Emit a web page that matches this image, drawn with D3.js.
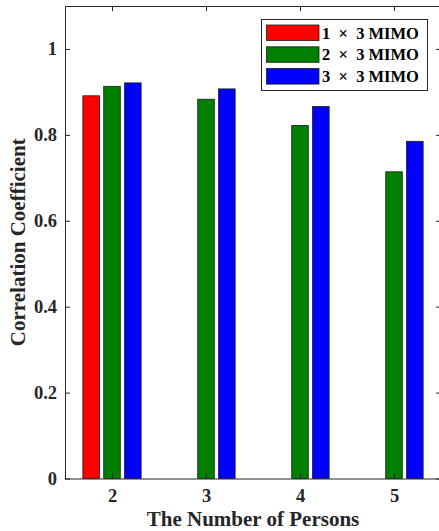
<!DOCTYPE html>
<html><head><meta charset="utf-8">
<script src="https://cdn.jsdelivr.net/npm/d3@7"></script>
<style>body{margin:0;background:#fff;}svg{display:block;}</style>
</head><body>
<script>
const categories = [2, 3, 4, 5];
const seriesNames = ["1  \u00d7  3 MIMO", "2  \u00d7  3 MIMO", "3  \u00d7  3 MIMO"];
const mimo1x3 = [0.891, 0, 0, 0];
const mimo2x3 = [0.913, 0.883, 0.822, 0.714];
const mimo3x3 = [0.921, 0.907, 0.866, 0.785];
const colors = ["#ff0000", "#007f00", "#0000ff"];
const yTicks = [0, 0.2, 0.4, 0.6, 0.8, 1];

const W = 439, H = 531;
const m = {left: 65, top: 6, right: -2, bottom: 52.5};
const svg = d3.select("body").append("svg").attr("width", W).attr("height", H);
const font = "'Liberation Serif', 'Times New Roman', serif";
const x = d3.scaleLinear().domain([1.5, 5.5]).range([m.left, W - m.right]);
const y = d3.scaleLinear().domain([0, 1.1]).range([H - m.bottom, m.top]);

const series = [mimo1x3, mimo2x3, mimo3x3];
const offsets = [-0.222, 0, 0.222];
const bw = x(0.176) - x(0);

const g = svg.append("g");
series.forEach((vals, si) => {
  g.selectAll(null).data(vals).enter().append("rect")
    .attr("x", (d, i) => x(categories[i] + offsets[si]) - bw / 2)
    .attr("y", d => y(d))
    .attr("width", bw)
    .attr("height", d => y(0) - y(d))
    .attr("fill", colors[si])
    .attr("stroke", "#1a1a1a").attr("stroke-width", 0.8);
});

// axes
const axL = d3.axisLeft(y).tickValues(yTicks).tickFormat(d => d === 0 ? "0" : d === 1 ? "1" : d3.format(".1f")(d)).tickSizeInner(-5).tickSizeOuter(0).tickPadding(8);
const axB = d3.axisBottom(x).tickValues(categories).tickFormat(d3.format("d")).tickSizeInner(-5).tickSizeOuter(0);
const axT = d3.axisTop(x).tickValues(categories).tickFormat("").tickSizeInner(-5).tickSizeOuter(0);
const axR = d3.axisRight(y).tickValues(yTicks).tickFormat("").tickSizeInner(-5).tickSizeOuter(0);

function style(sel) {
  sel.selectAll("path").attr("stroke", "#262626").attr("stroke-width", 1);
  sel.selectAll("line").attr("stroke", "#262626");
  sel.selectAll("text").attr("font-family", font).attr("font-weight", "bold").attr("font-size", 18.5).attr("fill", "#262626");
}
svg.append("g").attr("transform", `translate(${m.left},0)`).call(axL).call(style);
svg.append("g").attr("transform", `translate(0,${H - m.bottom})`).call(axB).call(style)
  .selectAll("text").attr("y", 23).attr("dy", 0);
svg.append("g").attr("transform", `translate(0,${m.top})`).call(axT).call(style);
svg.append("g").attr("transform", `translate(${W - m.right},0)`).call(axR).call(style);

// axis labels
svg.append("text").attr("x", 253).attr("y", 526).attr("text-anchor", "middle")
  .attr("font-family", font).attr("font-weight", "bold").attr("font-size", 21).attr("fill", "#262626")
  .text("The Number of Persons");
svg.append("text").attr("transform", `translate(25,${(m.top + H - m.bottom) / 2}) rotate(-90)`).attr("text-anchor", "middle")
  .attr("font-family", font).attr("font-weight", "bold").attr("font-size", 21).attr("fill", "#262626")
  .text("Correlation Coefficient");

// legend
const lg = svg.append("g");
lg.append("rect").attr("x", 261.5).attr("y", 19.5).attr("width", 166).attr("height", 71)
  .attr("fill", "#fff").attr("stroke", "#262626").attr("stroke-width", 1);
seriesNames.forEach((n, i) => {
  const yy = 25 + i * 21.8;
  lg.append("rect").attr("x", 266.5).attr("y", yy).attr("width", 52.5).attr("height", 15.5)
    .attr("fill", colors[i]).attr("stroke", "#1a1a1a").attr("stroke-width", 0.8);
  lg.append("text").attr("x", 322).attr("y", yy + 13.5).attr("font-family", font).attr("font-weight", "bold")
    .attr("font-size", 16.5).attr("fill", "#000").style("white-space", "pre").text(n);
});
</script>
</body></html>
